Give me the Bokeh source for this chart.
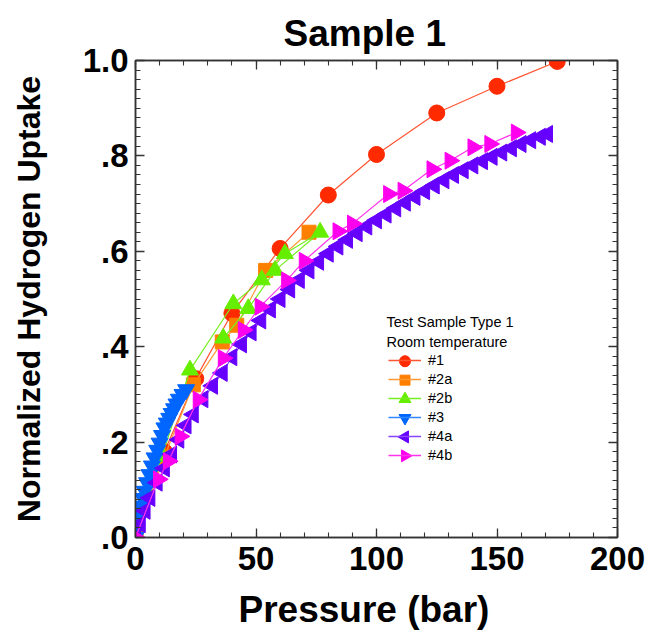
import math
from bokeh.plotting import figure
from bokeh.models import (LinearAxis, Legend, LegendItem, Title, CustomJSTickFormatter,
                          SingleIntervalTicker, ColumnDataSource, Label)
from bokeh.embed import file_html
from bokeh.resources import INLINE

# ---------------- data ----------------
x1 = [0, 12, 25, 40, 60, 80, 100, 125, 150, 175]
y1 = [0, 0.18, 0.333, 0.47, 0.606, 0.718, 0.803, 0.89, 0.946, 0.998]

x2a = [0, 12, 24, 36, 42, 54, 72]
y2a = [0, 0.17, 0.32, 0.41, 0.445, 0.56, 0.64]

x2b = [0, 11, 22.6, 40.6, 52.4, 62, 76.6, 57.9, 46.8, 36.4]
y2b = [0, 0.17, 0.351, 0.49, 0.54, 0.595, 0.64, 0.56, 0.48, 0.418]

x3 = [0, 0.5, 1, 1.7, 2.4, 3.1, 3.8, 4.8, 5.8, 6.8, 7.9, 9, 10, 11, 12, 13, 14, 15,
      16, 17, 18, 19.5, 21]
y3 = [0, 0.018, 0.035, 0.05, 0.066, 0.082, 0.097, 0.115, 0.132, 0.15, 0.167, 0.183,
      0.198, 0.214, 0.23, 0.24, 0.25, 0.26, 0.27, 0.28, 0.29, 0.3, 0.31]

x4a = [0, 2, 4, 6, 9, 12, 15, 18, 21, 24, 28, 32, 36, 40, 44, 48, 52, 56, 60, 64,
       68, 72, 76, 80, 84, 88, 92, 96, 100, 104, 108, 112, 116, 120, 124, 128, 132,
       136, 140, 144, 148, 152, 156, 160, 164, 168, 171]
y4a = [0, 0.028, 0.056, 0.083, 0.115, 0.145, 0.174, 0.205, 0.235, 0.258, 0.29, 0.318,
       0.345, 0.378, 0.405, 0.43, 0.455, 0.478, 0.50, 0.52, 0.54, 0.56, 0.578, 0.595,
       0.61, 0.624, 0.638, 0.652, 0.665, 0.677, 0.69, 0.702, 0.714, 0.726, 0.738,
       0.749, 0.76, 0.77, 0.78, 0.789, 0.798, 0.807, 0.816, 0.825, 0.833, 0.84, 0.846]

x4b = [0, 9.5, 13.6, 18.5, 26, 36.4, 44.7, 51.7, 62.7, 70, 84, 90, 105, 111, 123,
       130.5, 140, 147, 158]
y4b = [0, 0.122, 0.16, 0.212, 0.289, 0.376, 0.435, 0.484, 0.539, 0.58, 0.642, 0.658,
       0.72, 0.727, 0.772, 0.79, 0.818, 0.825, 0.849]

labels = ["#1", "#2a", "#2b", "#3", "#4a", "#4b"]
legend_title_lines = ["Test Sample Type 1", "Room temperature"]
chart_title = "Sample 1"
x_title = "Pressure (bar)"
y_title = "Normalized Hydrogen Uptake"

FONT = "Liberation Sans"
AXC = "#333333"

# layout constants (pixels)
W, H = 645, 643
BL, BR, BT, BB = 135, 28, 60, 104
FW, FH = W - BL - BR, H - BT - BB
XMAX, YMAX = 200, 1.0
LEG_X, LEG_Y = 253, 73
GLYPH_W, ITEM_H, SPACING = 33, 18, 1

p = figure(width=W, height=H, x_range=(0, XMAX), y_range=(0, YMAX),
           output_backend="svg", toolbar_location=None,
           min_border_left=BL, min_border_right=BR, min_border_top=BT,
           min_border_bottom=BB)
p.background_fill_color = "white"
p.border_fill_color = "white"
p.grid.visible = False
p.outline_line_color = AXC
p.outline_line_width = 1.5

p.title = Title(text=chart_title, align="left", offset=148, text_font=FONT,
                text_font_size="37px", text_font_style="bold", text_color="black",
                standoff=14)

empty_fmt = CustomJSTickFormatter(code="return '';")

def style_axis(ax, show_labels=True):
    ax.axis_line_color = AXC
    ax.axis_line_width = 1.5
    ax.major_tick_in = 9
    ax.major_tick_out = 0
    ax.minor_tick_in = 5
    ax.minor_tick_out = 0
    ax.major_tick_line_color = AXC
    ax.minor_tick_line_color = AXC
    ax.major_tick_line_width = 1.3
    ax.minor_tick_line_width = 1.1
    ax.major_label_text_font = FONT
    ax.major_label_text_font_style = "bold"
    ax.major_label_text_color = "black"
    ax.major_label_text_font_size = "33px"
    if not show_labels:
        ax.formatter = empty_fmt
        ax.major_label_standoff = 0

xt = SingleIntervalTicker(interval=50, num_minor_ticks=5)
yt = SingleIntervalTicker(interval=0.2, num_minor_ticks=10)
yfmt = CustomJSTickFormatter(code="return tick.toFixed(1).replace(/^0/, '');")

xa = p.xaxis[0]
xa.ticker = xt
style_axis(xa)
xa.major_label_standoff = 9

ya = p.yaxis[0]
ya.ticker = yt
ya.formatter = yfmt
style_axis(ya)
ya.major_label_standoff = 7
ya.axis_label = y_title
ya.axis_label_text_font = FONT
ya.axis_label_text_font_size = "32px"
ya.axis_label_text_font_style = "bold"
ya.axis_label_text_color = "black"
ya.axis_label_standoff = 33

top = LinearAxis(ticker=SingleIntervalTicker(interval=50, num_minor_ticks=5))
style_axis(top, False)
p.add_layout(top, "above")
right = LinearAxis(ticker=SingleIntervalTicker(interval=0.2, num_minor_ticks=10))
style_axis(right, False)
p.add_layout(right, "right")

p.add_layout(Title(text=x_title, align="left", offset=103, text_font=FONT,
                   text_font_size="37px", text_font_style="bold", text_color="black",
                   standoff=28, text_line_height=0.85), "below")

series = [
    (x1, y1, "#ff2a00", "#ff5533", "circle", 0, 16, 11),
    (x2a, y2a, "#ff8000", "#ff9933", "square", 0, 14, 10),
    (x2b, y2b, "#66ee00", "#77ee22", "triangle", 0, 17, 12),
    (x3, y3, "#0066ff", "#3388ff", "inverted_triangle", 0, 17, 12),
    (x4a, y4a, "#6600ff", "#8844ff", "triangle", math.pi / 2, 17, 12),
    (x4b, y4b, "#ff00ee", "#ff33ee", "triangle", -math.pi / 2, 17, 12),
]

# legend symbol positions, derived from the legend layout (screen px -> data)
n_items = len(labels)
leg_h = n_items * ITEM_H + (n_items - 1) * SPACING
sym_sx = LEG_X + GLYPH_W / 2.0
sym_x = sym_sx / FW * XMAX

items = []
nan = float("nan")
for i, ((xs, ys, c, lc, mk, ang, sz, lsz), lab) in enumerate(zip(series, labels)):
    src = ColumnDataSource(dict(x=xs, y=ys))
    p.line("x", "y", source=src, line_color=lc, line_width=1.2)
    p.scatter("x", "y", source=src, marker=mk, angle=ang, size=sz,
              fill_color=c, line_color=c)
    dummy = ColumnDataSource(dict(x=[nan], y=[nan]))
    lr = p.line("x", "y", source=dummy, line_color=lc, line_width=1.5)
    items.append(LegendItem(label=lab, renderers=[lr]))
    sym_sy = LEG_Y + leg_h - ITEM_H / 2.0 - i * (ITEM_H + SPACING)
    sym_src = ColumnDataSource(dict(x=[sym_x], y=[sym_sy / FH * YMAX]))
    p.scatter("x", "y", source=sym_src, marker=mk, angle=ang, size=lsz,
              fill_color=c, line_color=c)

leg = Legend(items=items, location=(LEG_X, LEG_Y), orientation="vertical",
             label_text_font=FONT, label_text_font_size="14.5px", label_text_color="black",
             glyph_width=GLYPH_W, glyph_height=ITEM_H, label_height=ITEM_H, label_standoff=7,
             spacing=SPACING, padding=0, margin=0, border_line_color=None,
             background_fill_alpha=0)
p.add_layout(leg, "center")

title_ys = [208, 188]
for t, ty in zip(legend_title_lines, title_ys):
    p.add_layout(Label(x=251, y=ty, x_units="screen", y_units="screen", text=t,
                       text_font=FONT, text_font_size="14.5px", text_color="black"))

open("out.html", "w").write(file_html(p, INLINE))
